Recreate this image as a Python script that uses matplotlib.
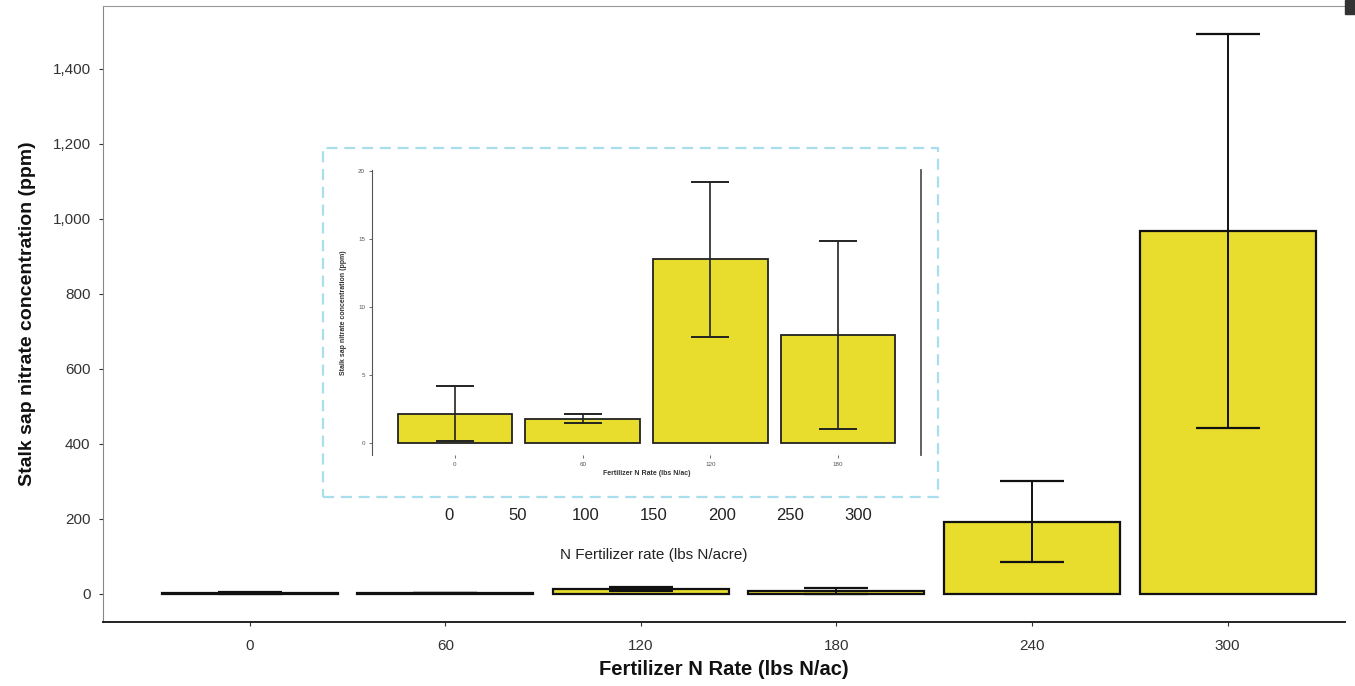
import matplotlib.pyplot as plt
from matplotlib.patches import Rectangle
from matplotlib.ticker import FuncFormatter
import numpy as np

plt.rcParams['font.family'] = ['Liberation Sans', 'DejaVu Sans']

# main chart: all six N rates
rates = ['0', '60', '120', '180', '240', '300']
sap_mean = [2.2, 1.8, 13.5, 7.9, 193, 968]
sap_err = [2.0, 0.33, 5.7, 6.9, 109, 525]

# inset: low rates only
inset_rates = ['0', '60', '120', '180']
inset_mean = [2.17, 1.78, 13.5, 7.93]
inset_err = [2.0, 0.33, 5.7, 6.9]

# stray axis under the inset
stray_ticks = [0, 50, 100, 150, 200, 250, 300]

bar_col = '#E8DC2C'
W, H = 1355, 686

fig = plt.figure(figsize=(13.55, 6.86), dpi=100)

# main axes
ax = fig.add_axes([103 / W, (H - 622) / H, (1345 - 103) / W, (622 - 6) / H])
x = np.arange(len(rates))
ax.bar(x, sap_mean, width=0.9, color=bar_col, edgecolor='#111111', linewidth=1.6,
       yerr=sap_err, error_kw=dict(ecolor='#111111', elinewidth=1.4, capsize=23, capthick=1.6))
ax.set_xlim(-0.75, 5.6)
ax.set_ylim(-75, 1568)
ax.set_yticks(np.arange(0, 1401, 200))
ax.yaxis.set_major_formatter(FuncFormatter(lambda v, p: f'{int(v):,}'))
ax.set_xticks(x)
ax.set_xticklabels(rates)
ax.tick_params(axis='both', labelsize=11, colors='#333333', length=3, width=0.8)
ax.tick_params(axis='x', pad=9)
ax.tick_params(axis='y', pad=6)
ax.spines['right'].set_visible(False)
ax.spines['top'].set_color('#999999')
ax.spines['left'].set_color('#888888')
ax.spines['bottom'].set_color('#222222')
ax.spines['bottom'].set_linewidth(1.4)
ax.set_ylabel('Stalk sap nitrate concentration (ppm)', fontsize=14, fontweight='bold',
              color='#111111', labelpad=12)
ax.set_xlabel('Fertilizer N Rate (lbs N/ac)', fontsize=14.5, fontweight='bold',
              color='#111111', labelpad=5)

# dark corner mark top right
fig.patches.append(Rectangle((1345 / W, (H - 14) / H), 10 / W, 14 / H,
                             transform=fig.transFigure, color='#333333'))

# dashed frame around the inset
fig.patches.append(Rectangle((323 / W, (H - 497) / H), (938 - 323) / W, (497 - 148) / H,
                             transform=fig.transFigure, fill=False, edgecolor='#A9DFEC',
                             linestyle=(0, (5, 3)), linewidth=1.6))

# inset axes
ax2 = fig.add_axes([372 / W, (H - 455) / H, (921 - 372) / W, (455 - 170) / H])
xi = np.arange(len(inset_rates))
ax2.bar(xi, inset_mean, width=0.9, color=bar_col, edgecolor='#222222', linewidth=1.3,
        yerr=inset_err, error_kw=dict(ecolor='#222222', elinewidth=1.2, capsize=14, capthick=1.4))
ax2.set_xlim(-0.65, 3.65)
ax2.set_ylim(-0.88, 20.07)
ax2.set_yticks([0, 5, 10, 15, 20])
ax2.set_xticks(xi)
ax2.set_xticklabels(inset_rates)
ax2.tick_params(axis='both', labelsize=4.5, colors='#555555', length=2, width=0.6, pad=3)
ax2.spines['top'].set_visible(False)
ax2.spines['bottom'].set_visible(False)
ax2.spines['left'].set_color('#555555')
ax2.spines['right'].set_color('#555555')
ax2.spines['right'].set_linewidth(1.3)
ax2.set_ylabel('Stalk sap nitrate concentration (ppm)', fontsize=5, fontweight='bold',
               color='#333333', labelpad=8)
ax2.set_xlabel('Fertilizer N Rate (lbs N/ac)', fontsize=5, fontweight='bold',
               color='#333333', labelpad=2)
ax2.patch.set_alpha(0)

# leftover axis text below the inset
ax3 = fig.add_axes([449 / W, (H - 505) / H, (858 - 449) / W, 0.001])
ax3.set_xlim(0, 300)
ax3.set_xticks(stray_ticks)
ax3.set_yticks([])
for s in ax3.spines.values():
    s.set_visible(False)
ax3.tick_params(axis='x', length=0, labelsize=12, colors='#222222', pad=2)
ax3.set_xlabel('N Fertilizer rate (lbs N/acre)', fontsize=11, color='#222222', labelpad=18)
ax3.patch.set_alpha(0)

fig.savefig('out.png', dpi=100)
